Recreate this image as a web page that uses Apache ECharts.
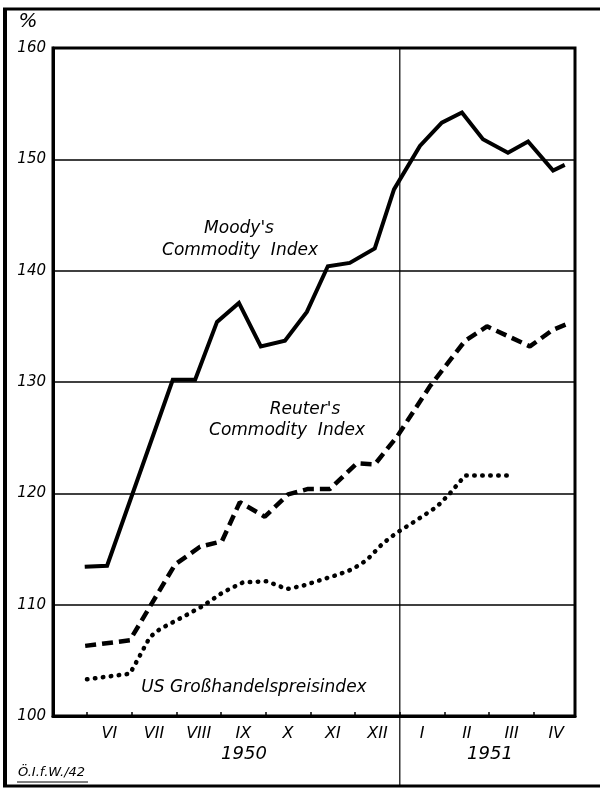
<!DOCTYPE html>
<html>
<head>
<meta charset="utf-8">
<script src="https://cdn.jsdelivr.net/npm/echarts@6/dist/echarts.min.js"></script>
<style>
  html, body { margin: 0; padding: 0; background: #fff; }
  #chart { width: 600px; height: 789px; }
</style>
</head>
<body>
<div id="chart"></div>
<script>
// month labels (each month is the interval between two ticks)
const months = ['VI', 'VII', 'VIII', 'IX', 'X', 'XI', 'XII', 'I', 'II', 'III', 'IV']
const years = ['1950', '1951']
const yTicks = [100, 110, 120, 130, 140, 150, 160]

// [month position, index %]
const moodys = [
  [-0.05, 113.4], [0.45, 113.5], [1.92, 130.2], [2.42, 130.2], [2.91, 135.4],
  [3.4, 137.1], [3.89, 133.2], [4.43, 133.7], [4.92, 136.3], [5.39, 140.4],
  [5.88, 140.7], [6.44, 142.0], [6.87, 147.3], [7.45, 151.2], [7.94, 153.3],
  [8.39, 154.2], [8.86, 151.8], [9.42, 150.6], [9.87, 151.6], [10.43, 149.0],
  [10.69, 149.5]
]
const reuters = [
  [-0.04, 106.3], [0.96, 106.8], [1.97, 113.6], [2.53, 115.2], [3.02, 115.7],
  [3.42, 119.2], [3.98, 117.9], [4.5, 119.9], [4.95, 120.4], [5.44, 120.4],
  [6.04, 122.7], [6.44, 122.6], [6.94, 125.1], [7.67, 129.6], [8.46, 133.7],
  [8.95, 135.0], [9.91, 133.2], [10.43, 134.7], [10.74, 135.2]
]
const usWholesale = [
  [0, 103.3], [0.96, 103.8], [1.14, 105.1], [1.41, 107.1], [1.63, 107.8],
  [2.24, 109.1], [2.6, 109.9], [3.04, 111.1], [3.49, 112.0], [4.03, 112.1],
  [4.47, 111.4], [4.83, 111.7], [5.06, 112.0], [5.62, 112.7], [5.95, 113.2],
  [6.26, 114.0], [6.62, 115.5], [6.91, 116.4], [7.38, 117.6], [7.83, 118.8],
  [8.1, 119.9], [8.46, 121.6], [9.46, 121.6]
]
const yearBreak = 7

const FONT = 'DejaVu Sans'
const chart = echarts.init(document.getElementById('chart'), null, { renderer: 'canvas' })

const txt = (text, x, y, size, align) => ({
  type: 'text',
  x: x,
  y: y,
  style: {
    text: text,
    font: 'italic ' + size + 'px "' + FONT + '"',
    fill: '#000',
    textAlign: align || 'center',
    textVerticalAlign: 'middle'
  },
  z: 10
})

const option = {
  backgroundColor: '#fff',
  animation: false,
  grid: {
    left: 53, right: 25, top: 48, bottom: 73,
    show: true, borderColor: '#000', borderWidth: 3
  },
  xAxis: {
    type: 'value',
    min: -0.76,
    max: 10.92,
    axisLine: { show: true, onZero: false, lineStyle: { color: '#000', width: 3 } },
    splitLine: { show: false },
    axisTick: {
      show: true,
      inside: true,
      length: 4,
      customValues: months.map((m, i) => i),
      lineStyle: { color: '#000', width: 1.5 }
    },
    axisLabel: {
      customValues: months.map((m, i) => i + 0.5),
      formatter: v => months[Math.floor(v)],
      fontFamily: FONT,
      fontStyle: 'italic',
      fontSize: 16,
      color: '#000',
      margin: 10
    }
  },
  yAxis: {
    type: 'value',
    min: 100,
    max: 160,
    interval: 10,
    axisLine: { show: true, onZero: false, lineStyle: { color: '#000', width: 3 } },
    axisTick: { show: false },
    splitLine: { lineStyle: { color: '#000', width: 1.5 } },
    axisLabel: {
      formatter: v => yTicks.includes(v) ? String(v) : '',
      fontFamily: FONT,
      fontStyle: 'italic',
      fontSize: 15,
      color: '#000',
      margin: 7
    }
  },
  series: [
    {
      name: "Moody's Commodity Index",
      type: 'line',
      data: moodys,
      symbol: 'none',
      lineStyle: { color: '#000', width: 4, join: 'miter' },
      z: 5
    },
    {
      name: "Reuter's Commodity Index",
      type: 'line',
      data: reuters,
      symbol: 'none',
      lineStyle: { color: '#000', width: 4.5, type: [11, 6] },
      z: 5
    },
    {
      name: 'US Großhandelspreisindex',
      type: 'line',
      data: usWholesale,
      symbol: 'none',
      lineStyle: { color: '#000', width: 4.5, type: [0.5, 7.5], cap: 'round' },
      z: 5
    }
  ]
}

chart.setOption(option)

// vertical year separator, extending down into the label area
const xBreak = chart.convertToPixel({ xAxisIndex: 0 }, yearBreak)
chart.setOption({
  graphic: [
    // outer frame
    { type: 'line', shape: { x1: 5, y1: 9, x2: 5, y2: 786 }, style: { stroke: '#000', lineWidth: 4 } },
    { type: 'line', shape: { x1: 3, y1: 9, x2: 600, y2: 9 }, style: { stroke: '#000', lineWidth: 3 } },
    { type: 'line', shape: { x1: 3, y1: 786, x2: 600, y2: 786 }, style: { stroke: '#000', lineWidth: 3 } },
    { type: 'line', shape: { x1: xBreak, y1: 48, x2: xBreak, y2: 786 }, style: { stroke: '#000', lineWidth: 1.2 } },
    txt('%', 28, 22, 20),
    txt("Moody's", 239, 229, 17),
    txt('Commodity  Index', 240, 251, 17),
    txt("Reuter's", 305, 410, 17),
    txt('Commodity  Index', 287, 431, 17),
    txt('US Großhandelspreisindex', 254, 688, 17),
    txt(years[0], 244, 754, 18),
    txt(years[1], 490, 754, 18),
    txt('Ö.I.f.W./42', 18, 773, 13, 'left'),
    { type: 'line', shape: { x1: 17, y1: 782, x2: 88, y2: 782 }, style: { stroke: '#000', lineWidth: 1 } }
  ]
})
</script>
</body>
</html>
